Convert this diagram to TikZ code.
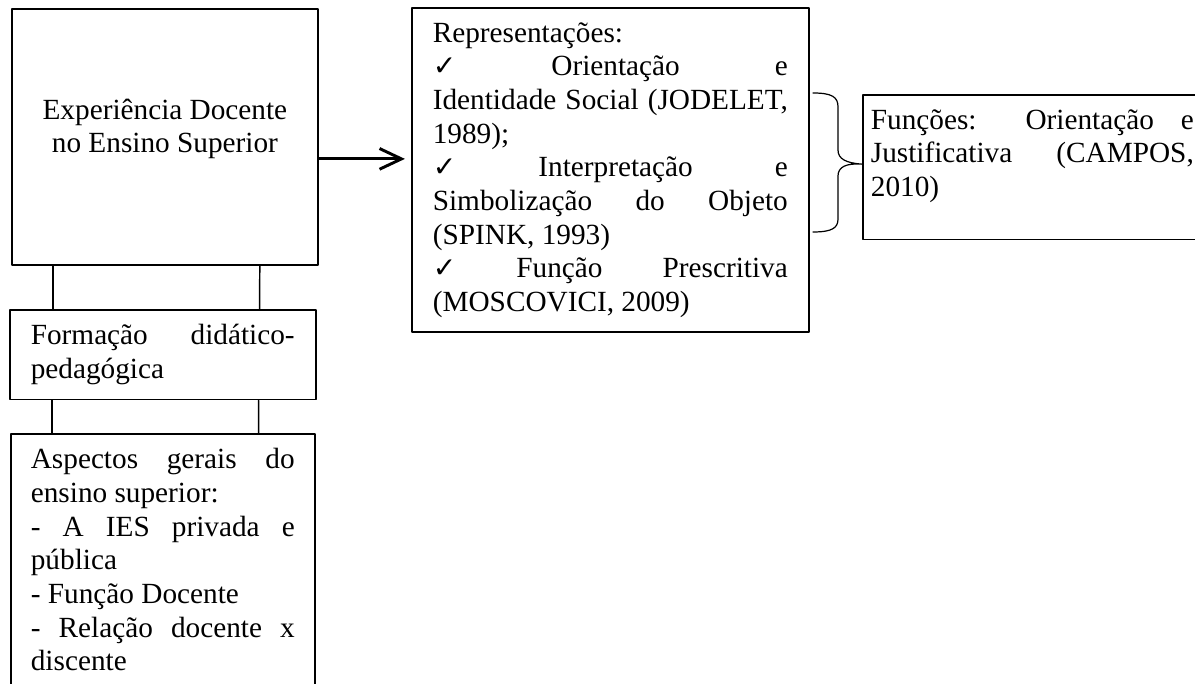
\documentclass[tikz,border=0pt]{standalone}
\usepackage{fontspec}
\setmainfont{Liberation Serif}
\newfontfamily\symf{DejaVu Sans}
\usetikzlibrary{calc,arrows.meta}
\hyphenpenalty=10000
\tikzset{
  caixa/.style={draw, line width=0.7pt, anchor=north west, inner ysep=6pt,
    align=justify, font=\fontsize{12}{13.8}\selectfont},
  liga/.style={line width=0.6pt},
  seta/.style={line width=1.2pt, -{Straight Barb[length=9pt,width=8.5pt]}},
  chave/.style={line width=0.5pt},
}
\newcommand{\ok}{{\symf\fontsize{11.5}{12}\selectfont ✓}}

\begin{document}
\begin{tikzpicture}[x=0.41pt, y=-0.41pt, line join=round, line cap=round]
  \useasboundingbox (0,0) rectangle (1195,684);
  % caixas da esquerda
  \node[caixa, align=center, minimum width=125.5pt, minimum height=105pt] (exp) at (11,8)
    {Experiência Docente\\no Ensino Superior\rule[-9pt]{0pt}{0pt}};
  \node[caixa, text width=108.2pt, inner xsep=8.6pt] (form) at (9,309)
    {Formação didático-\linebreak pedagógica};
  \node[caixa, text width=108.2pt, inner xsep=8.2pt] (asp) at (10,433)
    {Aspectos gerais do\linebreak ensino superior:\par
     - A IES privada e\linebreak pública\par
     - Função Docente\par
     - Relação docente x\linebreak discente};
  % caixas da direita
  \node[caixa, text width=145.55pt, inner xsep=8.6pt] (rep) at (411,7)
    {Representações:\par
     \ok{} Orientação e\linebreak Identidade Social (JODELET,\linebreak 1989);\par
     \ok{} Interpretação e\linebreak Simbolização do Objeto\linebreak (SPINK, 1993)\par
     \ok{} Função Prescritiva\linebreak (MOSCOVICI, 2009)};
  \node[caixa, text width=132.4pt, inner xsep=3.3pt] (fun) at (862,94)
    {Funções: Orientação e\linebreak Justificativa (CAMPOS,\linebreak 2010)\rule[-11.6pt]{0pt}{0pt}};
  % ligacoes
  \draw[liga] ($(exp.south west)+(42,0)$) -- ($(form.north west)+(44,0)$);
  \draw[liga] ($(exp.south east)+(-59,0)$) -- ($(form.north east)+(-57,0)$);
  \draw[liga] ($(form.south west)+(43,0)$) -- ($(asp.north west)+(42,0)$);
  \draw[liga] ($(form.south east)+(-58,0)$) -- ($(asp.north east)+(-57,0)$);
  \draw[seta, shorten >=2.5pt] ($(exp.east)+(0,22)$) coordinate (ar) -- (ar -| rep.west);
  % chave
  \coordinate (btop) at (813,93);
  \coordinate (bbot) at (813,232);
  \coordinate (bmid) at ($(fun.west)+(0,-3)$);
  \draw[chave] (btop) .. controls (832,93) and (838,97) .. (838,107) -- (838,150)
    .. controls (838,159) and (846,163) .. (bmid)
    .. controls (846,163) and (838,167) .. (838,176) -- (838,219)
    .. controls (838,228) and (832,232) .. (bbot);
\end{tikzpicture}
\end{document}
